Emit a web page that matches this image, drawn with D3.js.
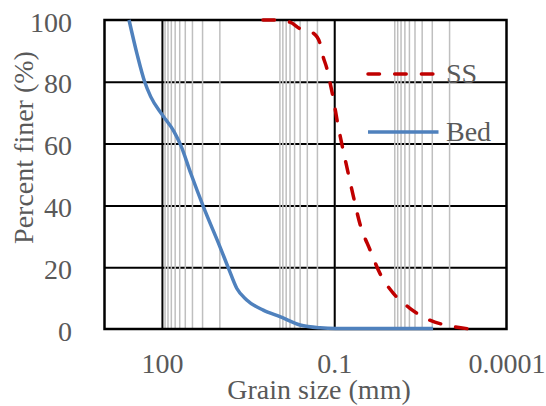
<!DOCTYPE html>
<html>
<head>
<meta charset="utf-8">
<script src="https://cdn.jsdelivr.net/npm/d3@7"></script>
<style>
    body { margin: 0; background: #fff; }
    text { font-family: "Liberation Serif", "Times New Roman", serif; fill: #595959; }
</style>
</head>
<body>
<div id="chart"></div>
<script>
// Grain size (mm) against percent finer
var bedSize  = [374, 269, 200, 157, 98.6, 61.6, 47.1, 31.5, 19.0, 9.76, 6.98, 4.99, 3.34, 1.72, 0.88, 0.394, 0.177, 0.094, 0.0019];
var bedFiner = [100, 88.7, 80, 75.2, 69.3, 63.9, 59.5, 50.4, 39.6, 26.6, 19.8, 13.2, 9.4, 6.1, 4.0, 1.3, 0.4, 0.2, 0.2];

var ssSize  = [1.74, 1.0, 0.59, 0.39, 0.23, 0.177, 0.159, 0.132, 0.119, 0.104, 0.088, 0.074, 0.058, 0.0465, 0.0356, 0.0238, 0.016, 0.0094, 0.0048, 0.0022, 0.00097, 0.00043];
var ssFiner = [100, 100, 99.3, 97.1, 95.7, 92.5, 88.7, 83.8, 80, 74.7, 67, 60, 51, 43, 34, 25.6, 18, 11.6, 6.7, 2.9, 1.0, 0];

var xMajorTicks = [100, 0.1, 0.0001];
var xTickLabels = ["100", "0.1", "0.0001"];
var yTicks = [0, 20, 40, 60, 80, 100];
var minorDecades = [10, 0.1, 0.001];   // excel only puts minor lines in these decades
var seriesNames = ["SS", "Bed"];

var width = 546, height = 406;
// note: "top" is taken by window.top, so plot edges get their own names
var plotLeft = 104.5, plotRight = 506.5, plotTop = 20, plotBottom = 329;

var x = d3.scaleLog().domain([1000, 0.0001]).range([plotLeft, plotRight]);
var y = d3.scaleLinear().domain([0, 100]).range([plotBottom, plotTop]);

var svg = d3.select("#chart").append("svg")
    .attr("width", width)
    .attr("height", height);

// horizontal gridlines
var hGrid = svg.append("g")
    .attr("transform", "translate(" + plotLeft + ",0)")
    .call(d3.axisLeft(y).tickValues([20, 40, 60, 80]).tickSize(-(plotRight - plotLeft)).tickFormat(""));
hGrid.select(".domain").remove();
hGrid.selectAll("line").attr("stroke", "#000").attr("stroke-width", 2);

// minor vertical gridlines
var minorVals = [];
minorDecades.forEach(function (d) {
    for (var k = 1; k <= 9; k++) minorVals.push(k * d);
});
var mGrid = svg.append("g")
    .attr("transform", "translate(0," + plotBottom + ")")
    .call(d3.axisBottom(x).tickValues(minorVals).tickSize(-(plotBottom - plotTop)).tickFormat(""));
mGrid.select(".domain").remove();
mGrid.selectAll("line").attr("stroke", "#bfbfbf").attr("stroke-width", 1.5);

// major vertical gridlines
var vGrid = svg.append("g")
    .attr("transform", "translate(0," + plotBottom + ")")
    .call(d3.axisBottom(x).tickValues([100, 0.1]).tickSize(-(plotBottom - plotTop)).tickFormat(""));
vGrid.select(".domain").remove();
vGrid.selectAll("line").attr("stroke", "#000").attr("stroke-width", 2);

// plot border
svg.append("rect")
    .attr("x", plotLeft).attr("y", plotTop)
    .attr("width", plotRight - plotLeft).attr("height", plotBottom - plotTop)
    .attr("fill", "none")
    .attr("stroke", "#000")
    .attr("stroke-width", 2.5);

// tick labels
var xAxis = svg.append("g")
    .attr("transform", "translate(0," + plotBottom + ")")
    .call(d3.axisBottom(x).tickValues(xMajorTicks).tickSize(0)
        .tickFormat(function (d, i) { return xTickLabels[i]; }));
xAxis.select(".domain").remove();
xAxis.attr("font-family", null).attr("font-size", null);
xAxis.selectAll("text").attr("y", 44).attr("dy", 0).attr("fill", "#595959").style("font-size", "28px");

var yAxis = svg.append("g")
    .attr("transform", "translate(" + plotLeft + ",0)")
    .call(d3.axisLeft(y).tickValues(yTicks).tickSize(0));
yAxis.select(".domain").remove();
yAxis.attr("font-family", null).attr("font-size", null);
yAxis.selectAll("text").attr("x", -32.5).attr("dy", 0).attr("y", 11).attr("fill", "#595959").style("font-size", "28px");

// axis titles
svg.append("text")
    .attr("x", 319).attr("y", 399)
    .attr("text-anchor", "middle")
    .style("font-size", "28px")
    .text("Grain size (mm)");

svg.append("text")
    .attr("transform", "translate(33,147.5) rotate(-90)")
    .attr("text-anchor", "middle")
    .style("font-size", "28px")
    .text("Percent finer (%)");

// curves
var line = d3.line()
    .x(function (d) { return x(d[0]); })
    .y(function (d) { return y(d[1]); })
    .curve(d3.curveMonotoneX);

var bed = bedSize.map(function (s, i) { return [s, bedFiner[i]]; });
var ss = ssSize.map(function (s, i) { return [s, ssFiner[i]]; });

svg.append("path")
    .datum(bed)
    .attr("d", line)
    .attr("fill", "none")
    .attr("stroke", "#4f81bd")
    .attr("stroke-width", 3.5);

svg.append("path")
    .datum(ss)
    .attr("d", line)
    .attr("fill", "none")
    .attr("stroke", "#c00000")
    .attr("stroke-width", 3.5)
    .attr("stroke-linecap", "round")
    .attr("stroke-dasharray", "11.5,15.2");

// legend
var legend = svg.append("g");
var legendY = [74, 132];
var legendStyle = [
    { color: "#c00000", dash: "11.5,15.2", cap: "round" },
    { color: "#4f81bd", dash: null, cap: "butt" }
];
seriesNames.forEach(function (name, i) {
    legend.append("line")
        .attr("x1", 368).attr("x2", 438.5)
        .attr("y1", legendY[i]).attr("y2", legendY[i])
        .attr("stroke", legendStyle[i].color)
        .attr("stroke-width", 3.5)
        .attr("stroke-linecap", legendStyle[i].cap)
        .attr("stroke-dasharray", legendStyle[i].dash);
    legend.append("text")
        .attr("x", 446).attr("y", legendY[i] + 8.5)
        .style("font-size", "28px")
        .text(name);
});
</script>
</body>
</html>
